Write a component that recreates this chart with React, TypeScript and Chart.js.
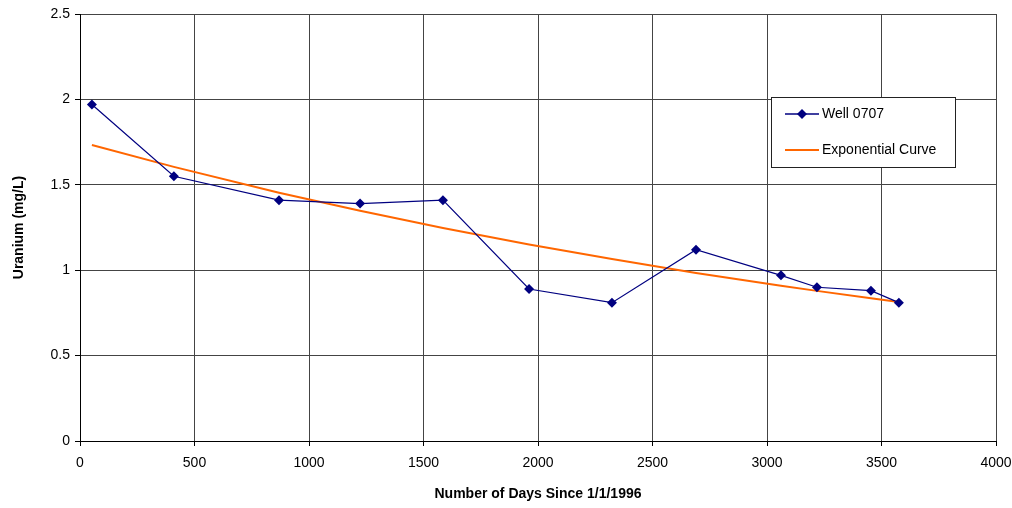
import React, { useEffect, useRef } from "react";
import { Chart, registerables } from "chart.js";

Chart.register(...registerables);

const wellDays = [52, 410, 869, 1223, 1585, 1961, 2323, 2690, 3061, 3218, 3454, 3576];
const wellUranium = [1.97, 1.55, 1.41, 1.39, 1.41, 0.89, 0.81, 1.12, 0.97, 0.9, 0.88, 0.81];
const curveDays = [52, 410, 869, 1223, 1585, 1961, 2323, 2690, 3061, 3218, 3454, 3576];
const curveUranium = [1.733, 1.605, 1.454, 1.348, 1.247, 1.151, 1.065, 0.984, 0.909, 0.879, 0.836, 0.814];
const seriesNames = ["Well 0707", "Exponential Curve"];
const xTitle = "Number of Days Since 1/1/1996";
const yTitle = "Uranium (mg/L)";

const FONT = "'Liberation Sans', Arial, sans-serif";
const NAVY = "#000080";
const ORANGE = "#FF6600";

const legendPlugin = {
  id: "boxLegend",
  afterDraw(chart: any) {
    const ctx = chart.ctx;
    const x = 771, y = 97, w = 184, h = 70;
    ctx.save();
    ctx.fillStyle = "#fff";
    ctx.fillRect(x, y, w, h);
    ctx.strokeStyle = "#222";
    ctx.lineWidth = 1;
    ctx.strokeRect(x + 0.5, y + 0.5, w, h);
    const y1 = 114, y2 = 150;
    ctx.strokeStyle = NAVY;
    ctx.lineWidth = 1.5;
    ctx.beginPath();
    ctx.moveTo(785, y1);
    ctx.lineTo(819, y1);
    ctx.stroke();
    ctx.fillStyle = NAVY;
    ctx.beginPath();
    ctx.moveTo(802, y1 - 5);
    ctx.lineTo(807, y1);
    ctx.lineTo(802, y1 + 5);
    ctx.lineTo(797, y1);
    ctx.closePath();
    ctx.fill();
    ctx.strokeStyle = ORANGE;
    ctx.lineWidth = 2;
    ctx.beginPath();
    ctx.moveTo(785, y2);
    ctx.lineTo(819, y2);
    ctx.stroke();
    ctx.fillStyle = "#000";
    ctx.font = `14px ${FONT}`;
    ctx.textBaseline = "middle";
    ctx.textAlign = "left";
    ctx.fillText(seriesNames[0], 822, y1);
    ctx.fillText(seriesNames[1], 822, y2);
    ctx.restore();
  },
};

export default function App() {
  const ref = useRef<HTMLCanvasElement>(null);
  useEffect(() => {
    const chart = new Chart(ref.current!, {
      type: "scatter",
      data: {
        datasets: [
          {
            label: seriesNames[1],
            data: curveDays.map((d, i) => ({ x: d, y: curveUranium[i] })),
            showLine: true,
            borderColor: ORANGE,
            borderWidth: 2,
            pointRadius: 0,
            tension: 0,
            order: 2,
          },
          {
            label: seriesNames[0],
            data: wellDays.map((d, i) => ({ x: d, y: wellUranium[i] })),
            showLine: true,
            borderColor: NAVY,
            backgroundColor: NAVY,
            borderWidth: 1.2,
            pointStyle: "rectRot",
            pointRadius: 5,
            pointBorderWidth: 0,
            order: 1,
          },
        ],
      },
      options: {
        animation: false,
        responsive: false,
        maintainAspectRatio: false,
        layout: { padding: { left: 0, right: 16, top: 14, bottom: 0 } },
        plugins: { legend: { display: false }, tooltip: { enabled: false } },
        scales: {
          x: {
            type: "linear",
            min: 0,
            max: 4000,
            afterFit: (s: any) => { s.height = 67; s.paddingLeft = 0; s.paddingRight = 0; },
            ticks: { stepSize: 500, color: "#000", padding: 9, font: { family: FONT, size: 14 }, maxRotation: 0, callback: (v: any) => String(v) },
            grid: { color: "#444", lineWidth: 1, tickLength: 5, tickColor: "#000" },
            border: { color: "#000", width: 1 },
            title: { display: true, text: xTitle, color: "#000", font: { family: FONT, size: 14, weight: "bold" }, padding: { top: 0, bottom: 5 } },
          },
          y: {
            min: 0,
            max: 2.5,
            afterFit: (s: any) => { s.width = 80; s.paddingTop = 0; s.paddingBottom = 0; },
            ticks: { stepSize: 0.5, color: "#000", padding: 5, font: { family: FONT, size: 14 }, callback: (v: any) => String(v) },
            grid: { color: "#444", lineWidth: 1, tickLength: 5, tickColor: "#000" },
            border: { color: "#000", width: 1 },
            title: { display: true, text: yTitle, color: "#000", font: { family: FONT, size: 14, weight: "bold" }, padding: { top: 11, bottom: 0 } },
          },
        },
      },
      plugins: [legendPlugin],
    });
    return () => chart.destroy();
  }, []);
  return (
    <div style={{ position: "fixed", left: 0, top: 0, width: 1012, height: 508, background: "#fff" }}>
      <canvas ref={ref} width={1012} height={508} style={{ display: "block" }} />
    </div>
  );
}
